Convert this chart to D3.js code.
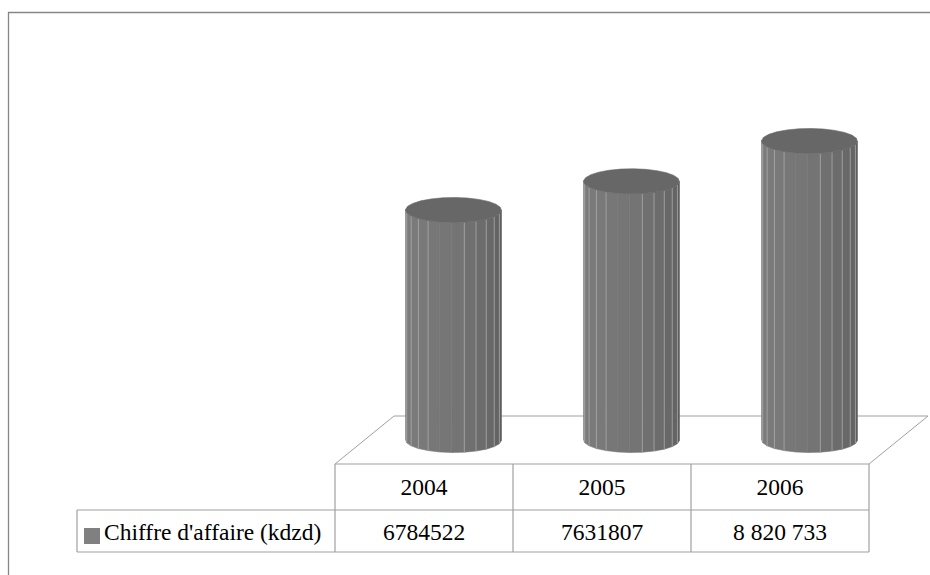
<!DOCTYPE html>
<html>
<head>
<meta charset="utf-8">
<script src="https://cdn.jsdelivr.net/npm/d3@7/dist/d3.min.js"></script>
</head>
<body style="margin:0">
<script>
// ---- data ----
const categories = ["2004", "2005", "2006"];
const seriesName = "Chiffre d'affaire (kdzd)";
const values = [6784522, 7631807, 8820733];
const valueLabels = ["6784522", "7631807", "8 820 733"];

// ---- layout ----
const W = 930, H = 575;
const FS = 23.5;
const svg = d3.select("body").append("svg").attr("width", W).attr("height", H)
  .style("display", "block").style("font-family", '"Liberation Serif"', "important");

// outer frame (only top and left visible)
svg.append("path").attr("d", "M8.5,575 V12.5 H930")
  .attr("fill", "none").attr("stroke", "#868686").attr("stroke-width", 1.3);

const tableLeft = 77, plotLeft = 335, plotRight = 869;
const rowTop = 464, rowMid = 510, rowBot = 552;
const depthX = 59, depthY = -48;

const x = d3.scaleBand().domain(categories).range([plotLeft, plotRight]).padding(0);
const baseY = rowTop + depthY / 2;   // bars stand at mid-depth
const y = d3.scaleLinear().domain([0, 10000000]).range([baseY, 101]);

const lineCol = "#a0a0a0";

// floor (parallelogram)
svg.append("path")
  .attr("d", `M${plotLeft},${rowTop} L${plotLeft + depthX},${rowTop + depthY} L${plotRight + depthX},${rowTop + depthY} L${plotRight},${rowTop}`)
  .attr("fill", "none").attr("stroke", lineCol).attr("stroke-width", 1);

// cylinders
const N = 24, off = 2 * Math.PI / 180;
const rx = 48, ry = 12.5;
categories.forEach((c, i) => {
  const cx = x(c) + x.bandwidth() / 2 + depthX / 2;
  const topY = y(values[i]);
  const g = svg.append("g");
  const ang = d3.range(N + 1).map(k => off + k * 2 * Math.PI / N);
  for (let k = 0; k < N; k++) {
    const a0 = ang[k], a1 = ang[k + 1];
    const mid = (a0 + a1) / 2;
    if (Math.sin(mid) <= 0) continue;
    const phi = (mid * 180 / Math.PI) % 360;
    let lum;
    if (phi >= 90) lum = 117 + 8 * (phi - 90) / 90;
    else lum = 90 + 27 * Math.pow(phi / 90, 0.8);
    const col = d3.rgb(lum, lum, lum);
    const xa = cx + rx * Math.cos(a0), xb = cx + rx * Math.cos(a1);
    const ya = ry * Math.sin(a0), yb = ry * Math.sin(a1);
    g.append("path")
      .attr("d", `M${xa},${topY + ya} L${xb},${topY + yb} L${xb},${baseY + yb} L${xa},${baseY + ya} Z`)
      .attr("fill", col).attr("stroke", col).attr("stroke-width", 0.6);
  }
  for (let k = 1; k < N; k++) {
    const a = ang[k];
    const deg = (a * 180 / Math.PI) % 360;
    if (Math.sin(a) <= 0.1) continue;
    if (deg > 85 && deg < 115) continue;
    const xa = cx + rx * Math.cos(a), ya = ry * Math.sin(a);
    g.append("line")
      .attr("x1", xa).attr("x2", xa)
      .attr("y1", topY + ya).attr("y2", baseY + ya)
      .attr("stroke", "#b0b0b0").attr("stroke-width", 1).attr("opacity", 0.7);
  }
  const capPts = ang.slice(0, N).map(a => [cx + rx * Math.cos(a), topY + ry * Math.sin(a)]);
  g.append("path")
    .attr("d", d3.line()(capPts) + "Z")
    .attr("fill", "#676767").attr("stroke", "#676767").attr("stroke-width", 0.6);
});

// data table
const hl = (x1, x2, yy) => svg.append("line").attr("x1", x1).attr("x2", x2).attr("y1", yy).attr("y2", yy)
  .attr("stroke", lineCol).attr("stroke-width", 1.2);
const vl = (xx, y1, y2) => svg.append("line").attr("x1", xx).attr("x2", xx).attr("y1", y1).attr("y2", y2)
  .attr("stroke", lineCol).attr("stroke-width", 1.2);

hl(plotLeft, plotRight, rowTop);
hl(tableLeft, plotRight, rowMid);
hl(tableLeft, plotRight, rowBot);
vl(tableLeft, rowMid, rowBot);
vl(plotLeft, rowTop, rowBot);
categories.forEach(c => vl(x(c) + x.bandwidth(), rowTop, rowBot));

const txt = (sel) => sel.attr("font-size", FS)
  .style("font-family", '"Liberation Serif"', "important").attr("fill", "#000");

categories.forEach((c, i) => {
  const cx = x(c) + x.bandwidth() / 2;
  txt(svg.append("text").attr("x", cx).attr("y", 495).attr("text-anchor", "middle")).text(c);
  txt(svg.append("text").attr("x", cx).attr("y", 540).attr("text-anchor", "middle")).text(valueLabels[i]);
});

svg.append("rect").attr("x", 84).attr("y", 528).attr("width", 16).attr("height", 16).attr("fill", "#808080");
txt(svg.append("text").attr("x", 104).attr("y", 540)).text(seriesName);
</script>
</body>
</html>
